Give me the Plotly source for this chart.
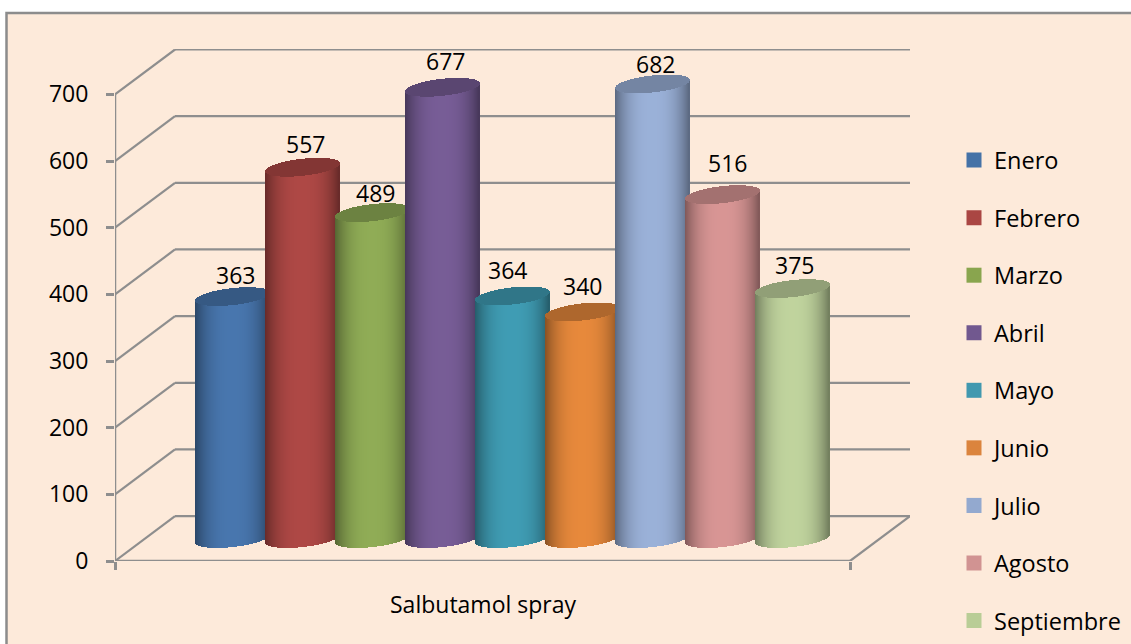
import numpy as np
import plotly.graph_objects as go

months = ["Enero", "Febrero", "Marzo", "Abril", "Mayo", "Junio", "Julio", "Agosto", "Septiembre"]
values = [363, 557, 489, 677, 364, 340, 682, 516, 375]
colors = ["#4572A7", "#AA4643", "#89A54E", "#71588F", "#4198AF", "#DB843D", "#93A9CF", "#D19392", "#B9CD96"]
bright = ["#4A79B2", "#B24A47", "#93B058", "#7A5F9A", "#41A0B8", "#EC8C3D", "#9EB5DD", "#DD9998", "#C4D8A1"]
y_ticks = [0, 100, 200, 300, 400, 500, 600, 700]
category = "Salbutamol spray"

# pixel geometry of the pseudo-3D box
PLOT_L, PLOT_R, PLOT_T, PLOT_B = 115, 910, 48.5, 561.5
W, H = 1131, 644
PX_Y = (561.5 - 94) / 700      # px per value unit
PX_X = 70                      # px per category slot
FIRST = 232.5                  # px centre of first cylinder (mid depth)
DX = 60 / PX_X                 # full depth in x units
DY = 45 / PX_Y                 # full depth in y units
xl = (PLOT_L - FIRST) / PX_X
xr = (PLOT_R - FIRST) / PX_X
xfr = xr - DX
ytop = (PLOT_B - PLOT_T) / PX_Y

A = 37                         # cylinder half width (px)
B = 8.5 / PX_Y                 # ellipse half height (value units)
S = 4 / PX_Y                   # ellipse tilt (value units)
STEP = 1                       # strip width (px)

# data label nudges in px, placed by eye
LABEL_DX = [3, 3, 3, 3, -5, 0, 3, 5, 2]
LABEL_DY = [22, 23, 20, 26, 26, 26, 20, 32, 24]


def shade(hex_color, f):
    r, g, b = (int(hex_color[i:i + 2], 16) for i in (1, 3, 5))
    return f"rgb({min(255, int(r * f))},{min(255, int(g * f))},{min(255, int(b * f))})"


GRID = "#8E8E8E"
shapes = [dict(type="rect", xref="paper", yref="paper", layer="below",
               x0=(6.5 - PLOT_L) / (PLOT_R - PLOT_L), x1=(1200 - PLOT_L) / (PLOT_R - PLOT_L),
               y0=(PLOT_B - 700) / (PLOT_B - PLOT_T), y1=(PLOT_B - 12.5) / (PLOT_B - PLOT_T),
               fillcolor="#FDEADA", line=dict(color="#8C8C8C", width=2.5))]


def seg(x0, y0, x1, y1, w=2.2):
    shapes.append(dict(type="line", xref="x", yref="y", layer="below", x0=x0, y0=y0, x1=x1, y1=y1,
                       line=dict(color=GRID, width=w)))


for v in y_ticks:
    seg(xl, v, xl + DX, v + DY)
    seg(xl + DX, v + DY, xr, v + DY)
seg(xl, 0, xl, 700, 2.5)
seg(xl, 0, xfr, 0, 2.5)
seg(xfr, 0, xr, DY, 2.2)

fig = go.Figure()
us = np.arange(-A + STEP / 2, A, STEP) / A
for i, (m, val, col) in enumerate(zip(months, values, bright)):
    root = np.sqrt(1 - us ** 2)
    xs = i + us * A / PX_X
    lower = DY / 2 + S * us - B * root
    center = DY / 2 + val + S * us
    body_c = [shade(col, 0.58 + 0.40 * (1 - abs(u) ** 2.6)) for u in us]
    fig.add_trace(go.Bar(x=xs, y=center - lower, base=lower, width=1.4 * STEP / PX_X,
                         marker=dict(color=body_c, line=dict(width=0)), showlegend=False, hoverinfo="skip"))
    fig.add_trace(go.Bar(x=xs, y=2 * B * root, base=center - B * root, width=1.4 * STEP / PX_X,
                         marker=dict(color=shade(col, 0.74), line=dict(width=0)),
                         showlegend=False, hoverinfo="skip"))
    fig.add_annotation(x=i, y=DY / 2 + val, text=str(val), showarrow=False,
                       xshift=LABEL_DX[i], yshift=LABEL_DY[i], font=dict(size=23, color="#000000"))

for m, col in zip(months, colors):
    fig.add_trace(go.Scatter(x=[None], y=[None], mode="markers", name=m, legendgroup=m,
                             marker=dict(symbol="square", size=15, color=col)))

fig.add_annotation(x=(xl + xfr) / 2, y=0, text=category, showarrow=False, yshift=-43,
                   font=dict(size=23, color="#000000"))

fig.update_layout(
    width=W, height=H, autosize=False,
    margin=dict(l=PLOT_L, r=W - PLOT_R, t=PLOT_T, b=H - PLOT_B, pad=0, autoexpand=False),
    paper_bgcolor="#FFFFFF", plot_bgcolor="rgba(0,0,0,0)",
    barmode="overlay", bargap=0,
    font=dict(family="Open Sans", size=23, color="#000000"),
    shapes=shapes,
    xaxis=dict(range=[xl, xr], tickmode="array", tickvals=[xl, xfr], ticktext=["", ""], ticks="outside",
               ticklen=8, tickwidth=2.5, tickcolor=GRID, showgrid=False, zeroline=False, showline=False),
    yaxis=dict(range=[0, ytop], tickmode="array", tickvals=y_ticks, ticks="outside", ticklen=8, tickwidth=2.5,
               tickcolor=GRID, showgrid=False, zeroline=False, showline=False, ticklabelstandoff=13,
               tickfont=dict(size=23)),
    legend=dict(x=(954 - PLOT_L) / (PLOT_R - PLOT_L), y=(PLOT_B - 138) / (PLOT_B - PLOT_T),
                xanchor="left", yanchor="top", bgcolor="rgba(0,0,0,0)", tracegroupgap=24,
                font=dict(size=23.5), itemsizing="trace", itemwidth=30, traceorder="grouped"),
)

fig.write_html("out.html", config=dict(displayModeBar=False),
               post_script="document.body.style.margin='0';document.body.style.overflow='hidden';")
